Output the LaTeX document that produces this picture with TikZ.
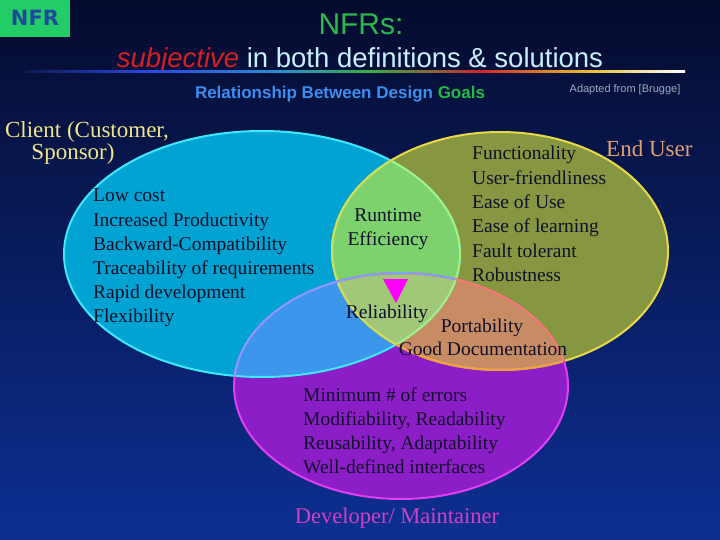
\documentclass[tikz,border=0pt]{standalone}
\usepackage{fontspec}
\setmainfont{Liberation Serif}
\setsansfont{Liberation Sans}
\newfontfamily\nfrfont{DejaVu Sans}
\definecolor{bgtop}{HTML}{050B2E}
\definecolor{bgmid}{HTML}{0A1E6E}
\definecolor{bgbot}{HTML}{0C2F92}
\definecolor{nfrgreen}{HTML}{22CC66}
\definecolor{nfrblue}{HTML}{1D4A9A}
\definecolor{titlegreen}{HTML}{2DB84D}
\definecolor{subred}{HTML}{D42020}
\definecolor{subcyan}{HTML}{C8F0FF}
\definecolor{relblue}{HTML}{3B8EF0}
\definecolor{relgreen}{HTML}{22BB44}
\definecolor{adgray}{HTML}{A0A8C0}
\definecolor{rule0}{HTML}{0E1A50}
\definecolor{rule1}{HTML}{2A48E8}
\definecolor{rule2}{HTML}{2890D0}
\definecolor{rule3}{HTML}{38B040}
\definecolor{rule4}{HTML}{D02828}
\definecolor{rule5}{HTML}{E8C030}
\definecolor{cyanfill}{HTML}{00A3D2}
\definecolor{olivefill}{HTML}{879641}
\definecolor{purplefill}{HTML}{8C1EC8}
\definecolor{cgreen}{HTML}{7DD26E}
\definecolor{cblue}{HTML}{3C96EB}
\definecolor{ctan}{HTML}{C88C64}
\definecolor{ctriple}{HTML}{A0C878}
\definecolor{clientline}{HTML}{40E8FF}
\definecolor{clientline2}{HTML}{A8F07C}
\definecolor{userline}{HTML}{E8D848}
\definecolor{userline2}{HTML}{F0A040}
\definecolor{userline3}{HTML}{C8E060}
\definecolor{devline}{HTML}{E040F0}
\definecolor{devline2}{HTML}{F08068}
\definecolor{devline3}{HTML}{80A0FF}
\definecolor{bodytext}{HTML}{10102A}
\definecolor{clientlbl}{HTML}{F0E68C}
\definecolor{userlbl}{HTML}{E0A070}
\definecolor{devlbl}{HTML}{D040C0}
\definecolor{trimag}{HTML}{FF00FF}
\pgfdeclarehorizontalshading{rulesh}{100bp}{color(0bp)=(rule0); color(25bp)=(rule0); color(34.5bp)=(rule1); color(44.3bp)=(rule2); color(51.1bp)=(rule3); color(59.5bp)=(rule4); color(67.8bp)=(rule5); color(75bp)=(white); color(100bp)=(white)}
\begin{document}
\begin{tikzpicture}[x=1pt,y=-1pt,
  body/.style={font=\fontsize{19.5}{24}\selectfont, text=bodytext, inner sep=0pt},
  grouplbl/.style={font=\fontsize{23}{22}\selectfont, inner sep=0pt},
  bd/.style={line width=2pt}]
\useasboundingbox (0,0) rectangle (720,540);
\shade[top color=bgtop, middle color=bgmid, bottom color=bgbot] (0,0) rectangle (720,540);
% header
\fill[nfrgreen] (0,0) rectangle (70,37);
\node[font=\nfrfont\bfseries\fontsize{21}{21}\selectfont, text=nfrblue, inner sep=0pt] (nfr) at (35,18) {NFR};
\node[font=\sffamily\fontsize{30}{30}\selectfont, text=titlegreen, anchor=base, inner sep=0pt] (title) at (361,35) {NFRs:};
\node[font=\sffamily\fontsize{27.5}{28}\selectfont, text=subcyan, anchor=base, inner sep=0pt] (sub) at (360,68) {\textcolor{subred}{\itshape subjective} in both definitions \& solutions};
\shade[shading=rulesh] (25,71) rectangle (685,73);
\node[font=\sffamily\bfseries\fontsize{17}{17}\selectfont, text=relblue, anchor=base, inner sep=0pt] (rel) at (340,99) {Relationship Between Design \textcolor{relgreen}{Goals}};
\node[font=\sffamily\fontsize{11}{11}\selectfont, text=adgray, anchor=base, inner sep=0pt] (adapted) at (625,93) {Adapted from [Brugge]};
% ellipses
\def\ClientEll{(262,254) ellipse [x radius=198pt, y radius=123pt]}
\def\UserEll{(500,251) ellipse [x radius=168pt, y radius=119pt]}
\def\DevEll{(401,386) ellipse [x radius=167pt, y radius=113pt]}
\fill[cyanfill] \ClientEll;
\fill[olivefill] \UserEll;
\fill[purplefill] \DevEll;
\begin{scope}\clip \ClientEll; \fill[cgreen] \UserEll; \end{scope}
\begin{scope}\clip \ClientEll; \fill[cblue] \DevEll; \end{scope}
\begin{scope}\clip \UserEll; \fill[ctan] \DevEll; \end{scope}
\begin{scope}\clip \ClientEll; \clip \UserEll; \fill[ctriple] \DevEll; \end{scope}
\draw[bd, clientline] \ClientEll;
\begin{scope}\clip \UserEll; \draw[bd, clientline2] \ClientEll; \end{scope}
\draw[bd, userline] \UserEll;
\begin{scope}\clip \DevEll; \draw[bd, userline2] \UserEll; \end{scope}
\begin{scope}\clip \ClientEll; \draw[bd, userline3] \UserEll; \end{scope}
\draw[bd, devline] \DevEll;
\begin{scope}\clip \UserEll; \draw[bd, devline2] \DevEll; \end{scope}
\begin{scope}\clip \ClientEll; \draw[bd, devline3] \DevEll; \end{scope}
% group labels
\node[grouplbl, text=clientlbl, anchor=base] (clientA) at (87,138) {Client (Customer,};
\node[grouplbl, text=clientlbl, anchor=base] (clientB) at (73,160) {Sponsor)};
\node[grouplbl, text=userlbl, anchor=base west] (enduser) at (606,157) {End User};
\node[grouplbl, font=\fontsize{22.5}{22}\selectfont, text=devlbl, anchor=base] (dev) at (397,523) {Developer/ Maintainer};
% client list
\foreach \t [count=\i] in {Low cost, Increased Productivity, Backward-Compatibility, Traceability of requirements, Rapid development, Flexibility}
  \node[body, anchor=base west] (cl\i) at (93,{178+24*\i}) {\t};
% end user list
\foreach \t [count=\i] in {Functionality, User-friendliness, Ease of Use, Ease of learning, Fault tolerant, Robustness}
  \node[body, anchor=base west] (eu\i) at (472,{135.7+24.3*\i}) {\t};
% developer list
\foreach \t [count=\i] in {Minimum \# of errors, {Modifiability, Readability}, {Reusability, Adaptability}, Well-defined interfaces}
  \node[body, anchor=base west] (dv\i) at (303,{378+23.8*\i}) {\t};
% overlaps
\node[body, anchor=base] (rt1) at (388,222) {Runtime};
\node[body, anchor=base] (rt2) at (388,245) {Efficiency};
\node[body, anchor=base] (rel2) at (387,318) {Reliability};
\node[body, anchor=base] (port) at (482,332) {Portability};
\node[body, anchor=base] (doc) at (483,355) {Good Documentation};
\fill[trimag] (383,279) -- (408,279) -- (396,303) -- cycle;
\end{tikzpicture}
\end{document}
